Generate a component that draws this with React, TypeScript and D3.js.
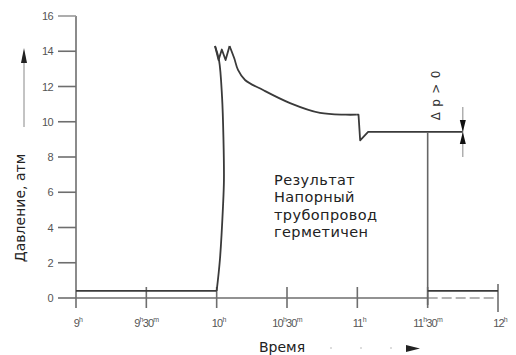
import React from "react";
import * as d3 from "d3";

// Data (time in minutes after 9:00, pressure in atm)
const yTicks = [0, 2, 4, 6, 8, 10, 12, 14, 16];
const xTicks = [0, 30, 60, 90, 120, 150, 180];
const xTickHours = ["9", "9", "10", "10", "11", "11", "12"];
const xTickMinutes = ["", "30", "", "30", "", "30", ""];

const baseT = [0, 60];
const baseP = [0.4, 0.4];

const riseT = [60, 61.4, 62.7, 63.1, 62.9, 62.3, 61.0, 59.3];
const riseP = [0.4, 2.2, 5.2, 6.7, 9.0, 11.4, 13.5, 14.3];

const wT = [59.3, 60.8, 62.2, 63.8, 65.5];
const wP = [14.3, 13.5, 14.1, 13.5, 14.3];

const decayT = [65.5, 67.5, 69.1, 72.1, 79.8, 91.3, 104.1, 115, 119.5];
const decayP = [14.3, 13.6, 12.94, 12.37, 11.8, 11.06, 10.5, 10.4, 10.4];

const stepT = [119.5, 120.5, 121.2, 124.6, 165];
const stepP = [10.4, 10.4, 8.95, 9.42, 9.42];

const endT = [150, 150];
const endP = [9.42, -0.4];

const tailT = [150, 180];
const tailP = [0.4, 0.4];

const resultLines = ["Результат", "Напорный", "трубопровод", "герметичен"];

export default function App() {
  const W = 516;
  const H = 355;
  const x = d3.scaleLinear().domain([0, 180]).range([76, 498]);
  const y = d3.scaleLinear().domain([0, 16]).range([298, 16]);

  const mk = (ts: number[], ps: number[], curve: any = d3.curveLinear) =>
    d3
      .line<number>()
      .x((_, i) => x(ts[i]))
      .y((_, i) => y(ps[i]))
      .curve(curve)(ts.map((_, i) => i)) || "";

  const dataColor = "#3a3a3a";
  const axisColor = "#6e6e6e";
  const tickFont = "'Liberation Sans', Arial, sans-serif";
  const textFont = "'DejaVu Sans', sans-serif";

  const arrowX = x(165);
  const levelY = y(9.42);

  return (
    <svg
      width={W}
      height={H}
      style={{ position: "absolute", left: 0, top: 0, background: "#fff" }}
    >
      {/* Y axis */}
      <line x1={x(0)} x2={x(0)} y1={y(16)} y2={y(0) + 10} stroke={axisColor} strokeWidth={1.6} />
      {yTicks.map((t) => (
        <g key={t}>
          <line x1={58} x2={x(0)} y1={y(t)} y2={y(t)} stroke={t === 16 ? "#999" : axisColor} strokeWidth={1.6} />
          <text
            x={53}
            y={y(t) + 4}
            textAnchor="end"
            fontFamily={tickFont}
            fontSize={11}
            letterSpacing={-0.6}
            fill="#555"
          >
            {t}
          </text>
        </g>
      ))}

      {/* X axis */}
      <line x1={x(0)} x2={x(150)} y1={y(0)} y2={y(0)} stroke={axisColor} strokeWidth={1.6} />
      <line
        x1={x(150)}
        x2={x(180)}
        y1={y(0)}
        y2={y(0)}
        stroke="#9a9a9a"
        strokeWidth={1.4}
        strokeDasharray="10 4"
      />
      {xTicks.map((t, i) => (
        <g key={t}>
          {i > 0 && (
            <line
              x1={x(t)}
              x2={x(t)}
              y1={i === 6 ? 284 : 287}
              y2={i === 6 ? 312 : 308}
              stroke={axisColor}
              strokeWidth={1.6}
            />
          )}
          <text
            x={x(t) + (xTickMinutes[i] ? 0 : 2)}
            y={327}
            textAnchor="middle"
            fontFamily={tickFont}
            fontSize={11}
            letterSpacing={-0.8}
            fill="#555"
          >
            {xTickHours[i]}
            <tspan fontSize={7} dy={-5}>
              h
            </tspan>
            {xTickMinutes[i] ? (
              <>
                <tspan fontSize={11} dy={5}>
                  {xTickMinutes[i]}
                </tspan>
                <tspan fontSize={7} dy={-5}>
                  m
                </tspan>
              </>
            ) : null}
          </text>
        </g>
      ))}

      {/* Data line */}
      <g fill="none" stroke={dataColor} strokeWidth={1.8} strokeLinejoin="round">
        <path d={mk(baseT, baseP)} />
        <path d={mk(riseT, riseP, d3.curveCatmullRom)} />
        <path d={mk(wT, wP)} />
        <path d={mk(decayT, decayP, d3.curveCatmullRom)} />
        <path d={mk(stepT, stepP)} />
        <path d={mk(endT, endP)} stroke="#666" strokeWidth={1.6} />
        <path d={mk(tailT, tailP)} />
      </g>

      {/* Δp annotation */}
      <line x1={arrowX} x2={arrowX} y1={107} y2={157} stroke="#888" strokeWidth={1} />
      <path
        d={`M${arrowX - 3},${levelY - 12} L${arrowX + 3},${levelY - 12} L${arrowX},${levelY} Z`}
        fill="#111"
      />
      <path
        d={`M${arrowX - 3},${levelY + 12} L${arrowX + 3},${levelY + 12} L${arrowX},${levelY} Z`}
        fill="#111"
      />
      <text
        transform={`translate(440,95) rotate(-90)`}
        textAnchor="middle"
        fontFamily={textFont}
        fontSize={12}
        fill="#333"
        letterSpacing={0.8}
      >
        Δ p &gt; 0
      </text>

      {/* Result text */}
      <g fontFamily={textFont} fontSize={14.5} fill="#222" letterSpacing={0.4}>
        {resultLines.map((s, i) => (
          <text key={s} x={274} y={185 + i * 17.3}>
            {s}
          </text>
        ))}
      </g>

      {/* Axis titles */}
      <text
        transform="translate(25,208) rotate(-90)"
        textAnchor="middle"
        fontFamily={textFont}
        fontSize={14}
        fill="#222"
      >
        Давление, атм
      </text>
      <line x1={24} x2={24} y1={127} y2={60} stroke="#888" strokeWidth={1} />
      <path d="M21,63 L27,63 L24,48 Z" fill="#222" />

      <text x={259} y={352} fontFamily={textFont} fontSize={14} fill="#222">
        Время
      </text>
      <line
        x1={330}
        x2={408}
        y1={348}
        y2={348}
        stroke="#bbb"
        strokeWidth={1.2}
        strokeDasharray="2 28"
      />
      <path d="M406,345 L420,348.5 L406,352 Z" fill="#222" />
    </svg>
  );
}
